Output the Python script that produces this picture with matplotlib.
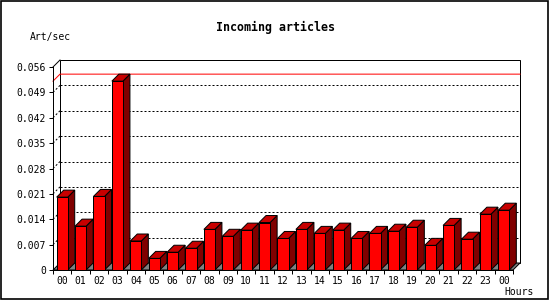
import matplotlib
matplotlib.use("Agg")
import matplotlib.pyplot as plt
from matplotlib.patches import Polygon, Rectangle
import numpy as np

# hourly incoming articles (art/sec)
hours = ['00', '01', '02', '03', '04', '05', '06', '07', '08', '09', '10', '11',
         '12', '13', '14', '15', '16', '17', '18', '19', '20', '21', '22', '23', '00']
rate = [0.0201, 0.0121, 0.0203, 0.0521, 0.0080, 0.0032, 0.0049, 0.0060, 0.0112,
        0.0093, 0.0110, 0.0131, 0.0087, 0.0112, 0.0101, 0.0110, 0.0087, 0.0101,
        0.0107, 0.0118, 0.0068, 0.0123, 0.0085, 0.0154, 0.0165]
yticks = [0, 0.007, 0.014, 0.021, 0.028, 0.035, 0.042, 0.049, 0.056]

W, H = 550, 300
fig = plt.figure(figsize=(5.5, 3), dpi=100)
fig.patch.set_facecolor('white')
# front plane of the plot in pixels
x0, x1, ybot, ytop = 53, 513, 270, 67
ax = fig.add_axes([x0 / W, 1 - ybot / H, (x1 - x0) / W, (ybot - ytop) / H])
n = len(rate)
ymax = 0.056
ax.set_xlim(0, n)
ax.set_ylim(0, ymax)
ax.set_facecolor('none')
for s in ax.spines.values():
    s.set_visible(False)

# depth of the fake 3d in data units (7 px right, 7 px up)
dx = 7 * n / (x1 - x0)
dy = 7 * ymax / (ybot - ytop)
lw = 0.72
mono = 'DejaVu Sans Mono'

# back wall and floor
ax.add_patch(Rectangle((dx, dy), n, ymax, fill=False, ec='black', lw=lw, clip_on=False, zorder=1))
ax.add_patch(Polygon([(0, 0), (n, 0), (n + dx, dy), (dx, dy)], closed=True, fc='#808080',
                     ec='black', lw=lw, clip_on=False, zorder=1))
for v in yticks[1:-1]:
    ax.plot([dx, n + dx], [v + dy, v + dy], color='black', lw=lw, ls=(0, (2, 2)),
            clip_on=False, zorder=1)
    ax.plot([0, dx], [v, v + dy], color='black', lw=lw, ls=(0, (2, 2)),
            clip_on=False, zorder=1)

# max line
vmax = max(rate)
ax.plot([0, dx, n + dx], [vmax, vmax + dy, vmax + dy], color='red', lw=lw,
        clip_on=False, zorder=1.5)

# front axes
ax.plot([0, 0, n], [ymax, 0, 0], color='black', lw=lw, clip_on=False, zorder=5)
ax.plot([0, dx], [ymax, ymax + dy], color='black', lw=lw, clip_on=False, zorder=5)

# bars
bw = 0.6
for i, v in enumerate(rate):
    l = i + 0.5 - bw / 2
    r = l + bw
    ax.add_patch(Polygon([(r, 0), (r + dx, dy), (r + dx, v + dy), (r, v)], closed=True,
                         fc='#800000', ec='black', lw=lw, clip_on=False, zorder=3))
    ax.add_patch(Polygon([(l, v), (r, v), (r + dx, v + dy), (l + dx, v + dy)], closed=True,
                         fc='#C80000', ec='black', lw=lw, clip_on=False, zorder=3))
    ax.add_patch(Rectangle((l, 0), bw, v, fc='#FF0000', ec='black', lw=lw,
                           clip_on=False, zorder=3))

ax.set_yticks(yticks)
ax.set_yticklabels(['0' if t == 0 else f'{t:.3f}' for t in yticks],
                   fontsize=7, family=mono)
ax.set_xticks(np.arange(n + 1))
ax.set_xticklabels([])
ax.set_xticks(np.arange(n) + 0.5, minor=True)
ax.set_xticklabels(hours, minor=True, fontsize=7, family=mono)
ax.tick_params(axis='y', length=3, width=lw, pad=2)
ax.tick_params(axis='x', which='major', length=3, width=lw)
ax.tick_params(axis='x', which='minor', length=0, pad=4)

fig.text(275 / W, 1 - 27 / H, 'Incoming articles', ha='center', va='center',
         fontsize=8.4, family=mono, weight='bold')
fig.text(30 / W, 1 - 37 / H, 'Art/sec', ha='left', va='center', fontsize=7, family=mono)
fig.text(534 / W, 1 - 292 / H, 'Hours', ha='right', va='center', fontsize=7, family=mono)

# outer frame
fig.add_artist(Rectangle((0.001, 0.002), 0.996, 0.995, transform=fig.transFigure,
                         fill=False, ec='black', lw=1.2))

fig.savefig('out.png', dpi=100)
